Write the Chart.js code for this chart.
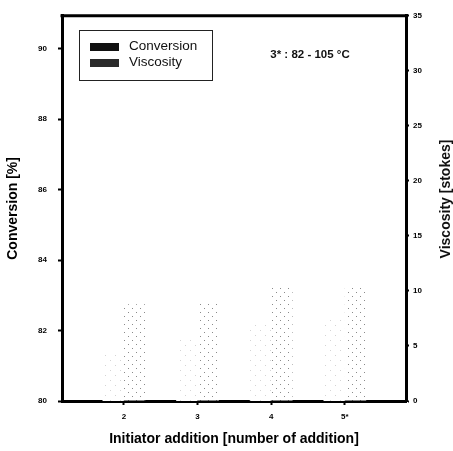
<!DOCTYPE html>
<html>
<head>
<meta charset="utf-8">
<script src="https://cdn.jsdelivr.net/npm/chart.js@4.4.1/dist/chart.umd.min.js"></script>
<style>
  html, body { margin: 0; padding: 0; background: #fff; }
</style>
</head>
<body>
<canvas id="chart" width="453" height="451"></canvas>
<script>
// data
const additions = [2, 3, 4, 5];
const additionLabels = ['2', '3', '4', '5*'];
const conversion = [81.4, 81.8, 82.2, 82.4];   // %
const viscosity = [8.8, 8.9, 10.4, 10.4];      // stokes

const FONT = "'Liberation Sans', Arial, sans-serif";

// sparse dot fill, looks like the scanned hatching
function dotPattern(color, step, size) {
  const c = document.createElement('canvas');
  c.width = step; c.height = step;
  const g = c.getContext('2d');
  g.fillStyle = '#fff';
  g.fillRect(0, 0, step, step);
  g.fillStyle = color;
  g.fillRect(0, 0, size, size);
  g.fillRect(step / 2, step / 2, size, size);
  return g.createPattern(c, 'repeat');
}

const framePlugin = {
  id: 'frame',
  afterDraw(chart) {
    const { ctx, chartArea: a } = chart;
    ctx.save();
    // top border of the frame
    ctx.strokeStyle = '#000';
    ctx.lineWidth = 3;
    ctx.beginPath();
    ctx.moveTo(a.left - 1.5, a.top);
    ctx.lineTo(a.right + 1.5, a.top);
    ctx.stroke();

    // legend box
    ctx.lineWidth = 1;
    ctx.strokeStyle = '#222';
    ctx.strokeRect(79.5, 30.5, 133, 50);
    ctx.fillStyle = '#111';
    ctx.fillRect(90, 43, 29, 8);
    ctx.fillStyle = '#2a2a2a';
    ctx.fillRect(90, 59, 29, 8);
    ctx.fillStyle = '#111';
    ctx.font = '13.5px ' + FONT;
    ctx.textAlign = 'left';
    ctx.textBaseline = 'middle';
    ctx.fillText('Conversion', 129, 46);
    ctx.fillText('Viscosity', 129, 62);

    // note
    ctx.font = 'bold 11.5px ' + FONT;
    ctx.textAlign = 'center';
    ctx.fillText('3* : 82 - 105 °C', 310, 55);

    // right axis title, reads bottom to top
    ctx.font = 'bold 14px ' + FONT;
    ctx.translate(446, 199);
    ctx.rotate(-Math.PI / 2);
    ctx.fillText('Viscosity [stokes]', 0, 0);
    ctx.restore();
  }
};

const tickFont = { family: FONT, size: 8, weight: 'bold' };
const titleFont = { family: FONT, size: 14, weight: 'bold' };

new Chart(document.getElementById('chart'), {
  type: 'bar',
  data: {
    datasets: [
      {
        label: 'Conversion',
        data: additions.map((x, i) => ({ x: x, y: conversion[i] })),
        yAxisID: 'y',
        backgroundColor: dotPattern('#d4d4d4', 10, 1),
        borderWidth: 0
      },
      {
        label: 'Viscosity',
        data: additions.map((x, i) => ({ x: x, y: viscosity[i] })),
        yAxisID: 'y1',
        backgroundColor: dotPattern('#8a8a8a', 8, 1),
        borderWidth: 0
      }
    ]
  },
  options: {
    responsive: false,
    animation: false,
    categoryPercentage: 0.58,
    barPercentage: 1.0,
    layout: { padding: { top: 13, left: 0, right: 0, bottom: 0 } },
    plugins: {
      legend: { display: false },
      tooltip: { enabled: false }
    },
    scales: {
      x: {
        type: 'linear',
        min: 1.16,
        max: 5.83,
        offset: false,
        afterBuildTicks: s => { s.ticks = additions.map(v => ({ value: v })); },
        afterFit: s => { s.height = 50; },
        border: { color: '#000', width: 3 },
        grid: { offset: false, drawOnChartArea: false, drawTicks: true, tickLength: 4, tickWidth: 2, tickColor: '#000' },
        ticks: {
          color: '#000',
          font: tickFont,
          padding: 7,
          maxRotation: 0,
          autoSkip: false,
          callback: v => additionLabels[additions.indexOf(v)]
        },
        title: {
          display: true,
          text: 'Initiator addition [number of addition]',
          color: '#000',
          font: titleFont,
          padding: { top: 4, bottom: 3 }
        }
      },
      y: {
        type: 'linear',
        position: 'left',
        min: 80,
        max: 90.93,
        afterFit: s => { s.width = 62; },
        border: { color: '#000', width: 3 },
        grid: { drawOnChartArea: false, drawTicks: true, tickLength: 4, tickWidth: 2, tickColor: '#000' },
        ticks: { stepSize: 2, includeBounds: false, color: '#000', font: tickFont, padding: 11 },
        title: {
          display: true,
          text: 'Conversion [%]',
          color: '#000',
          font: titleFont,
          padding: { top: 5, bottom: 4 }
        }
      },
      y1: {
        type: 'linear',
        position: 'right',
        min: 0,
        max: 35,
        afterFit: s => { s.width = 47; },
        border: { color: '#000', width: 3 },
        grid: { drawOnChartArea: false, drawTicks: true, tickLength: 3, tickWidth: 2, tickColor: '#000' },
        ticks: { stepSize: 5, color: '#000', font: tickFont, padding: 4 }
      }
    }
  },
  plugins: [framePlugin]
});
</script>
</body>
</html>
